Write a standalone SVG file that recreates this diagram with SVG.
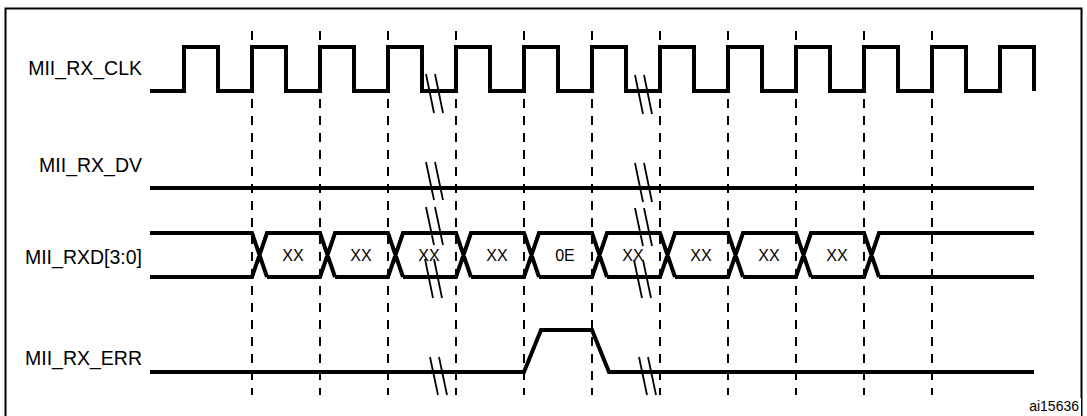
<svg xmlns="http://www.w3.org/2000/svg" width="1087" height="416" viewBox="0 0 1087 416">
<style>
.lbl{font-family:"Liberation Sans",Arial,sans-serif;font-size:19.5px;fill:#000;text-anchor:end}
.v{font-family:"Liberation Sans",Arial,sans-serif;font-size:16px;fill:#000;text-anchor:middle}
.w{fill:none;stroke:#000;stroke-width:4;stroke-linejoin:miter}
.d{stroke:#000;stroke-width:2;stroke-dasharray:9 8}
.b{stroke:#000;stroke-width:1.8}
</style>
<rect x="0" y="0" width="1087" height="416" fill="#fff"/>
<rect x="5.5" y="8.5" width="1076" height="420" fill="none" stroke="#000" stroke-width="2"/>
<g id="grid">
<line class="d" x1="252" y1="31" x2="252" y2="395"/>
<line class="d" x1="320" y1="31" x2="320" y2="395"/>
<line class="d" x1="388" y1="31" x2="388" y2="395"/>
<line class="d" x1="456" y1="31" x2="456" y2="395"/>
<line class="d" x1="524" y1="31" x2="524" y2="395"/>
<line class="d" x1="592" y1="31" x2="592" y2="395"/>
<line class="d" x1="660" y1="31" x2="660" y2="395"/>
<line class="d" x1="728" y1="31" x2="728" y2="395"/>
<line class="d" x1="796" y1="31" x2="796" y2="395"/>
<line class="d" x1="864" y1="31" x2="864" y2="395"/>
<line class="d" x1="932" y1="31" x2="932" y2="395"/>
</g>
<g id="clk">
<text class="lbl" x="142" y="75">MII_RX_CLK</text>
<path class="w" d="M150,91H184V47H218V91H252V47H286V91H320V47H354V91H388V47H422V91H456V47H490V91H524V47H558V91H592V47H626V91H660V47H694V91H728V47H762V91H796V47H830V91H864V47H898V91H932V47H966V91H1000V47H1034V91"/>
</g>
<g id="dv">
<text class="lbl" x="142" y="172">MII_RX_DV</text>
<path class="w" d="M150,188H1034"/>
</g>
<g id="rxd">
<text class="lbl" x="142" y="264">MII_RXD[3:0]</text>
<path class="w" d="M150,233H252L267,277M150,277H252L267,233H320L335,277M267,277H320L335,233H388L403,277M335,277H388L403,233H456L471,277M403,277H456L471,233H524L539,277M471,277H524L539,233H592L607,277M539,277H592L607,233H660L675,277M607,277H660L675,233H728L743,277M675,277H728L743,233H796L811,277M743,277H796L811,233H864L879,277M811,277H864L879,233H1034M879,277H1034"/>
<text class="v" x="293" y="261">XX</text>
<text class="v" x="361" y="261">XX</text>
<text class="v" x="429" y="261">XX</text>
<text class="v" x="497" y="261">XX</text>
<text class="v" x="565" y="261">0E</text>
<text class="v" x="633" y="261">XX</text>
<text class="v" x="701" y="261">XX</text>
<text class="v" x="769" y="261">XX</text>
<text class="v" x="837" y="261">XX</text>
</g>
<g id="err">
<text class="lbl" x="142" y="365">MII_RX_ERR</text>
<path class="w" d="M150,372H524L541,330H592L609,372H1034"/>
</g>
<g id="breaks">
<line class="b" x1="426" y1="74" x2="434" y2="113"/><line class="b" x1="435" y1="74" x2="443" y2="113"/>
<line class="b" x1="426" y1="162" x2="434" y2="200"/><line class="b" x1="435" y1="162" x2="443" y2="200"/>
<line class="b" x1="426" y1="207" x2="434" y2="245"/><line class="b" x1="435" y1="207" x2="443" y2="245"/>
<line class="b" x1="425" y1="259" x2="433" y2="298"/><line class="b" x1="434" y1="259" x2="442" y2="298"/>
<line class="b" x1="430" y1="357" x2="438" y2="395"/><line class="b" x1="439" y1="357" x2="447" y2="395"/>
<line class="b" x1="635" y1="75" x2="643" y2="114"/><line class="b" x1="644" y1="75" x2="652" y2="114"/>
<line class="b" x1="635" y1="163" x2="643" y2="202"/><line class="b" x1="644" y1="163" x2="652" y2="202"/>
<line class="b" x1="635" y1="208" x2="643" y2="246"/><line class="b" x1="644" y1="208" x2="652" y2="246"/>
<line class="b" x1="634" y1="260" x2="642" y2="298"/><line class="b" x1="643" y1="260" x2="651" y2="298"/>
<line class="b" x1="639" y1="357" x2="647" y2="395"/><line class="b" x1="648" y1="357" x2="656" y2="395"/>
</g>
<rect x="1036" y="398" width="45" height="18" fill="#fff"/>
<text x="1079" y="411" style="font-family:'Liberation Sans',Arial,sans-serif;font-size:14px;text-anchor:end">ai15636</text>
</svg>
